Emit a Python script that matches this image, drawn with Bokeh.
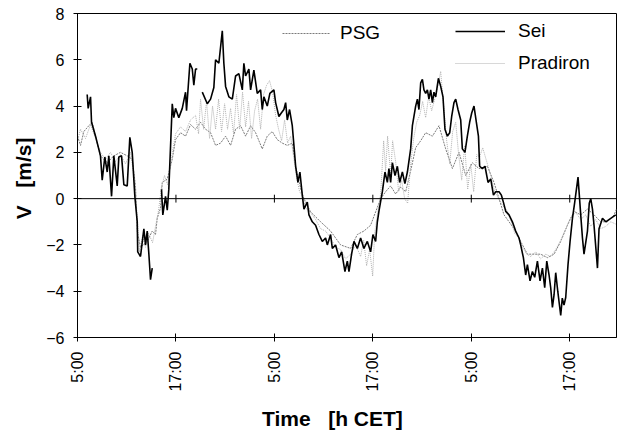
import numpy as np
from bokeh.plotting import figure
from bokeh.models import Range1d, FixedTicker, Span, Legend, LegendItem
from bokeh.embed import file_html
from bokeh.resources import INLINE

nan = np.nan

# hours since 5:00 CET of the first day
tick_hours = [0, 12, 24, 36, 48, 60]
tick_labels = ["5:00", "17:00", "5:00", "17:00", "5:00", "17:00"]
y_ticks = [-6, -4, -2, 0, 2, 4, 6, 8]

sei_t = [1.18, 1.30, 1.59, 1.71, 2.20, 2.80, 3.01, 3.33, 3.62, 3.82, 4.15, 4.43, 4.84, 5.04, 5.37, 5.65,
         6.06, 6.38, 6.67, 6.99, 7.28, 7.34, 7.68, 8.09, 8.29, 8.50, 8.70, 8.90, 9.11, 9.6,
         10.24, 10.40, 10.73, 10.94, 11.13, 11.55, 11.74, 11.95, 12.35, 12.77, 13.17, 13.29, 13.70,
         13.99, 14.18, 14.39, 14.60, 14.9,
         15.21, 15.82, 16.22, 16.62, 16.83, 17.23, 17.65, 17.84, 18.05, 18.45, 18.87, 19.27, 19.67,
         20.09, 20.28, 20.49, 20.89, 21.10, 21.50, 21.91, 22.32, 22.52, 22.72, 23.13, 23.45, 23.94,
         24.15, 24.55, 24.84, 25.16, 25.37, 25.57, 25.85, 26.18, 26.38, 26.59, 26.87, 27.11, 27.40,
         27.60, 28.01, 28.21, 28.62, 29.02, 29.43, 29.84, 30.24, 30.45, 30.85, 31.06, 31.46, 31.87,
         32.20, 32.60, 32.89, 33.09, 33.41, 33.70, 34.11, 34.51, 34.91, 35.33, 35.73, 36.01, 36.34,
         36.55, 36.74, 37.16, 37.48, 37.77, 37.96, 38.17, 38.38, 38.70, 38.99, 39.27, 39.60, 39.91,
         40.21, 40.61, 40.82, 41.22, 41.43, 41.62, 41.83, 42.04, 42.23, 42.44, 42.65, 42.84, 43.05,
         43.26, 43.45, 43.66, 43.99, 44.27, 44.55, 44.79, 45.09, 45.37, 45.61, 45.89, 46.10, 46.38,
         46.71, 46.91, 47.23, 47.52, 47.80, 48.05, 48.33, 48.62, 48.87, 49.02, 49.35, 49.67, 50.04,
         50.37, 50.70, 50.98, 51.38, 51.67, 51.91, 52.20, 52.60, 53.01, 53.41, 53.82, 54.02, 54.35,
         54.63, 54.84, 55.16, 55.45, 55.73, 56.06, 56.38, 56.67, 56.95, 57.20, 57.48, 57.68, 57.89,
         58.09, 58.29, 58.54, 58.90, 59.09, 59.30, 59.51, 59.79, 60.04, 60.33, 60.61, 61.01, 61.34,
         61.55, 61.74, 62.16, 62.38, 62.56, 62.77, 62.96, 63.38, 63.57, 63.99, 64.39, 65.00, 65.61]
sei_v = [4.5, 3.9, 4.4, 3.3, 2.7, 1.85, 0.8, 1.8, 1.15, 1.85, 0.1, 1.85, 0.55, 1.8, 1.85, 0.6,
         0.55, 2.65, 2.0, 0.1, -1.0, -2.3, -2.5, -1.3, -2.0, -1.4, -2.4, -3.5, -3.0, nan,
         0.4, -0.7, 0.1, -0.5, 0.4, 4.1, 3.5, 3.9, 3.5, 3.9, 4.6, 3.8, 5.85,
         5.6, 4.9, 5.6, 5.6, nan,
         4.6, 4.1, 4.3, 4.8, 6.0, 5.85, 7.25, 5.85, 4.85, 4.4, 4.3, 5.3, 5.4,
         4.7, 5.85, 5.3, 5.6, 4.7, 5.55, 4.55, 4.7, 3.85, 4.4, 4.0, 4.55, 4.7,
         4.15, 3.55, 3.7, 3.85, 4.15, 3.4, 3.85, 3.15, 2.3, 1.4, 0.7, 1.15, 0.15,
         -0.45, -0.15, -0.7, -1.0, -1.15, -1.55, -1.85, -1.7, -2.0, -1.55, -2.15, -2.0, -2.55,
         -2.3, -3.15, -2.7, -3.15, -2.4, -1.85, -2.15, -1.7, -2.15, -1.85, -2.3, -1.55, -1.85,
         -1.0, -0.55, 0.3, 1.15, 0.7, 1.3, 0.7, 1.55, 1.0, 1.4, 0.7, 1.15, 0.65,
         1.15, 2.15, 3.15, 4.0, 4.3, 3.85, 5.0, 5.15, 4.7, 4.55, 4.7, 4.3, 4.7,
         4.15, 4.6, 4.4, 5.2, 4.85, 4.4, 3.0, 2.7, 2.85, 3.55, 4.15, 4.3, 3.85,
         3.4, 2.15, 2.0, 2.7, 3.3, 3.7, 4.0, 3.3, 2.7, 1.4, 1.3, 1.4, 0.7,
         0.85, 0.15, 0.3, 0.3, 0.15, -0.15, -0.55, -0.7, -1.0, -1.4, -1.7, -2.0, -2.55,
         -3.3, -2.85, -3.55, -3.15, -3.4, -2.7, -3.55, -3.0, -3.85, -2.7, -3.3, -3.85, -4.7,
         -4.15, -3.2, -4.0, -5.05, -4.3, -4.6, -4.27, -2.85, -1.85, -0.85, -0.15, 0.93, -0.7,
         -1.7, -2.4, -1.4, -0.2, 0.0, -0.45, -1.15, -3.0, -1.3, -0.85, -1.0, -0.85, -0.7]

psg_t = [0.0, 0.37, 0.77, 1.38, 1.79, 2.40, 2.80, 3.62, 4.43, 5.24, 6.06, 6.67, 7.07, 7.28, 7.68,
         8.50, 9.11, 9.51, 9.72, 10.12, 10.33, 10.94, 11.55, 11.95, 12.56, 13.17, 13.78, 14.39,
         15.00, 15.61, 16.22, 16.83, 17.44, 18.05, 18.66, 19.27, 19.88, 20.49, 21.10, 21.71, 22.52,
         23.13, 23.74, 24.35, 24.96, 25.57, 26.18, 26.59, 27.20, 27.60, 28.41, 29.63, 30.85, 32.07,
         33.29, 34.11, 34.91, 35.73, 36.34, 36.95, 37.56, 38.17, 38.78, 39.39, 40.00, 40.61, 41.22,
         41.83, 42.44, 43.26, 44.06, 44.88, 45.70, 46.50, 47.32, 48.13, 48.94, 49.96, 50.77, 51.99,
         53.21, 54.02, 54.84, 55.65, 56.46, 57.28, 58.09, 58.90, 59.72, 60.52, 61.34, 62.16, 62.96,
         63.78, 64.60, 65.41, 65.70]
psg_v = [2.7, 2.3, 2.9, 3.15, 3.3, 2.4, 1.85, 1.55, 1.85, 2.0, 1.85, 1.7, 0.55, -1.4, -2.1,
         -1.85, -1.4, -1.55, -0.85, -0.4, 0.7, 0.85, 1.7, 2.55, 2.85, 2.7, 3.2, 3.0,
         3.3, 3.0, 2.85, 2.3, 2.4, 2.7, 2.3, 3.0, 3.15, 2.7, 3.15, 2.85, 2.15,
         2.7, 2.9, 2.55, 2.4, 2.3, 2.4, 1.4, 0.45, 0.0, -0.57, -1.0, -1.4, -2.0,
         -2.15, -1.55, -1.4, -1.15, -0.57, 0.0, 0.3, 0.55, 0.2, 0.5, 0.3, 1.2, 2.2,
         2.5, 2.85, 2.7, 3.15, 2.15, 1.3, 2.0, 1.0, 1.55, 1.3, 1.4, 0.7, -0.7,
         -1.3, -1.85, -2.4, -2.4, -2.4, -2.55, -2.4, -1.85, -1.15, -0.55, -0.7, -0.45, -0.7,
         -1.0, -1.0, -0.7, -0.45]

pra_t = [0.0, 0.37, 0.98, 1.59, 2.20, 2.80, 3.41, 4.02, 4.63, 5.24, 5.85, 6.46, 6.95, 7.32, 7.56,
         7.93, 8.29, 8.66, 9.15, 9.51, 9.88, 10.24, 10.61, 10.98, 11.34, 11.95, 12.56, 13.17, 13.78,
         14.39, 14.76, 15.00, 15.37, 15.73, 16.10, 16.46, 16.83, 17.20, 17.56, 17.93, 18.29, 18.66,
         19.02, 19.39, 19.76, 20.12, 20.49, 20.85, 21.22, 21.59, 21.95, 22.32, 22.68, 23.05, 23.41,
         23.78, 24.15, 24.51, 24.88, 25.24, 25.61, 25.98, 26.34, 26.71, 27.07, 27.44, 27.80, 28.41,
         29.02, 29.63, 30.24, 30.85, 31.46, 32.07, 32.68, 33.29, 33.90, 34.51, 34.88, 35.24, 35.61,
         35.98, 36.22, 36.59, 36.95, 37.32, 37.56, 37.80, 38.17, 38.41, 38.78, 39.15, 39.51, 39.88,
         40.24, 40.61, 40.98, 41.34, 41.71, 42.07, 42.44, 42.80, 43.17, 43.54, 43.90, 44.27, 44.63,
         45.00, 45.37, 45.73, 46.10, 46.46, 46.83, 47.20, 47.56, 47.93, 48.29, 48.66, 49.02, 49.39,
         49.88, 50.37, 50.85, 51.34, 51.83, 52.32, 52.80, 53.29, 53.78, 54.27, 54.76, 55.24, 55.85,
         56.46, 57.07, 57.68, 58.29, 58.90, 59.51, 60.12, 60.73, 61.34, 61.95, 62.56, 63.17, 63.78,
         64.39, 65.00, 65.61]
pra_v = [2.5, 3.0, 2.6, 3.2, 2.6, 2.0, 1.7, 2.0, 1.6, 1.9, 1.5, 2.0, 0.8, -1.0, -2.3,
         -1.6, -2.1, -1.5, -1.9, -1.2, -0.5, 0.5, 1.0, 0.6, 1.5, 2.8, 3.1, 2.9, 3.4,
         3.6, 2.8, 4.3, 3.0, 4.2, 2.6, 4.0, 3.0, 4.3, 2.9, 4.1, 3.0, 3.9,
         2.8, 4.5, 3.0, 4.6, 3.1, 4.2, 2.6, 3.8, 4.3, 3.0, 4.5, 4.9, 5.1,
         4.6, 3.6, 3.0, 2.5, 3.4, 2.4, 2.7, 1.8, 0.9, 0.3, 0.1, -0.4, -0.6,
         -0.9, -1.3, -1.4, -1.7, -2.1, -2.2, -2.6, -2.4, -2.0, -2.5, -1.8, -2.9, -2.2,
         -3.35, -1.5, -0.6, 0.2, 2.5, 1.2, 2.7, 1.0, 2.5, 1.6, 0.3, 0.8, 0.0,
         -0.2, 1.5, 2.6, 3.3, 3.6, 4.2, 3.5, 4.4, 3.8, 4.3, 4.8, 5.5, 4.0,
         2.5, 1.5, 2.9, 3.3, 1.9, 0.8, 2.3, 0.4, 1.5, 0.3, 1.9, 1.8, 2.2,
         1.6, 1.0, 0.3, 0.0, -0.3, -0.5, -0.9, -1.5, -1.7, -2.1, -2.4, -2.5, -2.3,
         -2.6, -2.4, -2.5, -2.2, -1.8, -1.3, -0.8, -0.6, -0.9, -0.7, -1.2, -0.9, -1.3,
         -1.2, -1.0, -1.1]

FONT = "Liberation Sans"

p = figure(width=617, height=432, output_backend="svg", toolbar_location=None,
           x_range=Range1d(0, 65.7), y_range=Range1d(-6, 8),
           min_border_left=77, min_border_right=1, min_border_top=13, min_border_bottom=91)
p.background_fill_color = "white"
p.border_fill_color = "white"
p.outline_line_color = "black"
p.outline_line_width = 1
p.xgrid.visible = False
p.ygrid.visible = False

# zero line with tick marks
p.add_layout(Span(location=0, dimension="width", line_color="black", line_width=1))
p.segment(x0=tick_hours, y0=[-0.17] * len(tick_hours), x1=tick_hours, y1=[0.17] * len(tick_hours),
          line_color="black", line_width=1)

r_psg = p.line(psg_t, psg_v, line_color="#7a7a7a", line_width=1, line_dash="2 1")
r_pra = p.line(pra_t, pra_v, line_color="#b0b0b0", line_width=1, line_dash="1 1")
r_sei = p.line(sei_t, sei_v, line_color="black", line_width=1.6)

xa = p.xaxis[0]
xa.ticker = FixedTicker(ticks=tick_hours)
xa.major_label_overrides = {t: l for t, l in zip(tick_hours, tick_labels)}
xa.major_label_orientation = np.pi / 2
xa.minor_tick_line_color = None
xa.major_tick_in = 4
xa.major_tick_out = 4
xa.major_label_standoff = 10
xa.axis_label = "Time\u00a0\u00a0\u00a0[h CET]" + "\u00a0" * 5
xa.axis_label_standoff = 12

ya = p.yaxis[0]
ya.ticker = FixedTicker(ticks=y_ticks)
ya.minor_tick_line_color = None
ya.major_tick_in = 4
ya.major_tick_out = 4
ya.major_label_standoff = 9
ya.axis_label = "V\u00a0\u00a0\u00a0[m/s]\u00a0"
ya.axis_label_standoff = 8

for ax in (xa, ya):
    ax.axis_line_color = "black"
    ax.major_tick_line_color = "black"
    ax.major_label_text_font = FONT
    ax.major_label_text_font_size = "16px"
    ax.major_label_text_color = "black"
    ax.axis_label_text_font = FONT
    ax.axis_label_text_font_size = "21px"
    ax.axis_label_text_font_style = "bold"
    ax.axis_label_text_color = "black"

common = dict(border_line_color=None, background_fill_alpha=0, padding=0, margin=0,
              label_text_font=FONT, label_text_font_size="19px", label_text_color="black",
              glyph_height=20, label_height=20, spacing=10)

leg1 = Legend(items=[LegendItem(label="PSG", renderers=[r_psg])], location=(205, 293),
              glyph_width=48, label_standoff=10, **common)
leg2 = Legend(items=[LegendItem(label="Sei", renderers=[r_sei]),
                     LegendItem(label="Pradiron", renderers=[r_pra])], location=(378, 263),
              glyph_width=50, label_standoff=13, **common)
p.add_layout(leg1)
p.add_layout(leg2)

open("out.html", "w").write(file_html(p, INLINE))
